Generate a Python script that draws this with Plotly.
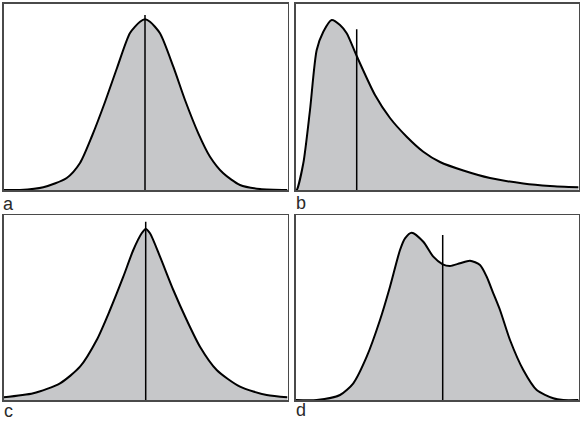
import plotly.graph_objects as go

# Panel a: symmetric, normal-like
a_x = [0, 16.5, 39.8, 63.2, 76.5, 88.5, 101.5, 113.5, 126.5, 136.5, 141.5,
       146.5, 156.5, 169.8, 181.5, 194.8, 206.5, 219.8, 236.5, 256.5, 284]
a_y = [0, 0, 2.7, 12, 27, 54, 88, 122, 157, 168.3, 170.7,
       168.3, 156.7, 123.3, 90, 56.7, 33.3, 16.7, 5, 1, 0]
a_mark = 141.5
a_mark_top = 175

# Panel b: right-skewed
b_x = [0, 1, 7.6, 14.3, 21, 27.6, 36, 44.3, 51, 61, 79.3, 94.3, 111, 127.6, 144.3,
       167.6, 194.3, 227.6, 254.3, 283]
b_y = [0, 0, 26.7, 80, 140, 158.3, 170, 165, 156.7, 134, 95, 72, 53.3, 38.3, 28,
       19.5, 12, 6.5, 4, 2.7]
b_mark = 61
b_mark_top = 160.7

# Panel c: peaked, heavy tails
c_x = [0, 29.8, 56.5, 76.5, 93.2, 106.5, 119.8, 129.8, 138.2, 142.2, 146.5, 156.5,
       169.8, 183.2, 196.5, 213.2, 236.5, 263.2, 284]
c_y = [2.7, 6.7, 16.7, 33.3, 60, 90, 123.3, 150, 166.7, 171, 166.7, 143.3,
       110, 80, 53.3, 30, 13.3, 5, 2.7]
c_mark = 142.2
c_mark_top = 178.3

# Panel d: bimodal
d_x = [0, 21, 44.3, 57.6, 71, 84.3, 94.3, 104.3, 109.3, 116, 127.6, 137.6, 147, 154.3,
       164.3, 174.3, 184.3, 191, 197.6, 204.3, 214.3, 227.6, 241, 257.6, 267.6, 283]
d_y = [0, 0, 5, 16.7, 43.3, 80, 113.3, 150, 161.7, 167.3, 158.3, 143.3, 135.7, 134,
       136.7, 139.3, 135, 123.3, 106.7, 90, 60, 30, 10, 1.7, 0, 0]
d_mark = 147
d_mark_top = 165

labels = ["a", "b", "c", "d"]

W, H = 580, 421
panels = [
    (a_x, a_y, a_mark, a_mark_top, (3.5, 287.5), (3.5, 190)),
    (b_x, b_y, b_mark, b_mark_top, (295.7, 578.5), (3.5, 190)),
    (c_x, c_y, c_mark, c_mark_top, (3.5, 287.5), (215, 400)),
    (d_x, d_y, d_mark, d_mark_top, (295.7, 578.5), (215, 400)),
]
label_pos = [(8.5, 204), (300.5, 203), (8.5, 411), (300.5, 410)]

fig = go.Figure()
for i, (xs, ys, mk, mt, (l, r), (t, b)) in enumerate(panels):
    n = "" if i == 0 else str(i + 1)
    xa, ya = "x" + n, "y" + n
    fig.add_trace(go.Scatter(x=xs, y=ys, mode="lines", line=dict(color="black", width=2, shape="spline", smoothing=0.7),
                             fill="tozeroy", fillcolor="#c6c7c9", xaxis=xa, yaxis=ya, hoverinfo="skip"))
    fig.add_trace(go.Scatter(x=[mk, mk], y=[0, mt], mode="lines", line=dict(color="black", width=1.5),
                             xaxis=xa, yaxis=ya, hoverinfo="skip"))
    ax = dict(showgrid=False, zeroline=False, showticklabels=False, ticks="", showline=True, mirror=True,
              linecolor="#4a4a4a", linewidth=1.5, fixedrange=True)
    fig.layout["xaxis" + n] = dict(ax, domain=[l / W, r / W], range=[0, r - l], anchor=ya)
    fig.layout["yaxis" + n] = dict(ax, domain=[(H - b) / H, (H - t) / H], range=[0, b - t], anchor=xa)
    fig.add_annotation(text=labels[i], xref="paper", yref="paper", x=label_pos[i][0] / W,
                       y=(H - label_pos[i][1]) / H, showarrow=False, xanchor="center", yanchor="middle",
                       font=dict(family="Liberation Sans Narrow, Liberation Sans, Arial", size=18, color="#2a2a2a"))

fig.update_layout(width=W, height=H, margin=dict(l=0, r=0, t=0, b=0), showlegend=False,
                  paper_bgcolor="white", plot_bgcolor="white")
fig.write_html("out.html", config={"displayModeBar": False, "staticPlot": True},
               post_script="document.body.style.margin='0';document.body.style.overflow='hidden';")
